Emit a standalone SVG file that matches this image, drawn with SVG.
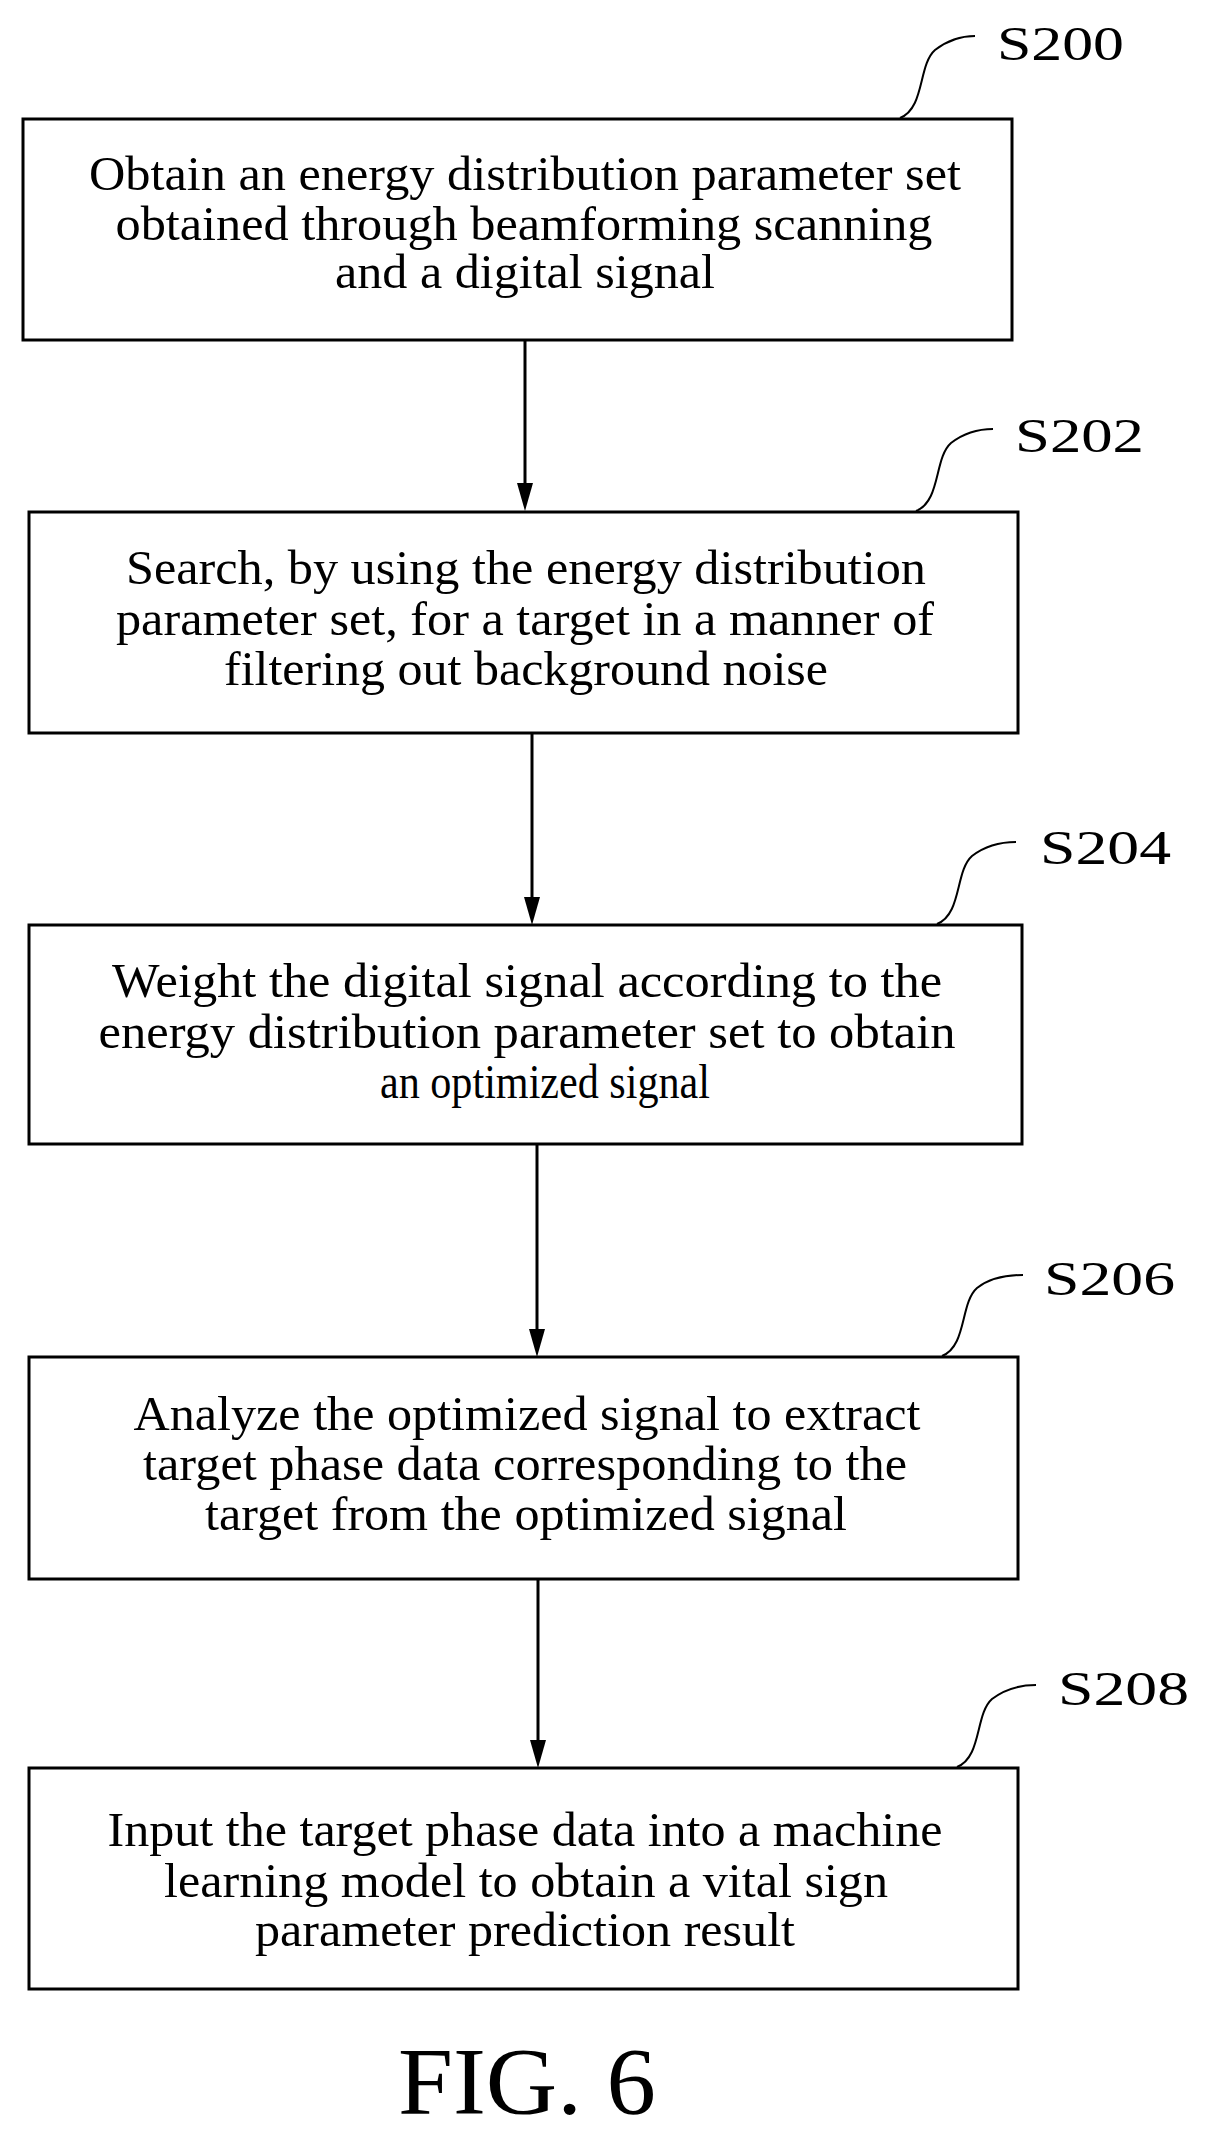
<svg xmlns="http://www.w3.org/2000/svg" width="1205" height="2131" viewBox="0 0 1205 2131">
<style>
.b{fill:#fff;stroke:#000;stroke-width:3}
.t{font-family:"Liberation Serif",serif;font-size:48px;text-anchor:middle;fill:#000}
.l{font-family:"Liberation Serif",serif;font-size:48px;fill:#000}
.c{fill:none;stroke:#000;stroke-width:2}
.a{stroke:#000;stroke-width:3;fill:none}
</style>
<rect width="1205" height="2131" fill="#fff"/>
<g id="connectors">
<line class="a" x1="525" y1="340" x2="525" y2="490"/><path d="M517,483 L533,483 L525,511 z"/>
<line class="a" x1="532" y1="733" x2="532" y2="904"/><path d="M524,897 L540,897 L532,925 z"/>
<line class="a" x1="537" y1="1144" x2="537" y2="1336"/><path d="M529,1329 L545,1329 L537,1357 z"/>
<line class="a" x1="538" y1="1579" x2="538" y2="1747"/><path d="M530,1740 L546,1740 L538,1768 z"/>
</g>
<g id="S200"><rect class="b" x="23" y="119" width="989" height="221"/>
<path class="c" d="M900,118 C925,108 918,65 935,50 C948,40 960,36 975,36"/>
<text class="l" x="997" y="60" textLength="127" lengthAdjust="spacingAndGlyphs">S200</text>
<text class="t" x="525" y="190" textLength="872" lengthAdjust="spacingAndGlyphs">Obtain an energy distribution parameter set</text>
<text class="t" x="524" y="240" textLength="817" lengthAdjust="spacingAndGlyphs">obtained through beamforming scanning</text>
<text class="t" x="525" y="288" textLength="380" lengthAdjust="spacingAndGlyphs">and a digital signal</text></g>
<g id="S202"><rect class="b" x="29" y="512" width="989" height="221"/>
<path class="c" d="M916,511 C941,501 934,458 951,443 C964,433 978,429 993,429"/>
<text class="l" x="1015" y="452" textLength="129" lengthAdjust="spacingAndGlyphs">S202</text>
<text class="t" x="526" y="584" textLength="800" lengthAdjust="spacingAndGlyphs">Search, by using the energy distribution</text>
<text class="t" x="525" y="635" textLength="818" lengthAdjust="spacingAndGlyphs">parameter set, for a target in a manner of</text>
<text class="t" x="526" y="685" textLength="604" lengthAdjust="spacingAndGlyphs">filtering out background noise</text></g>
<g id="S204"><rect class="b" x="29" y="925" width="993" height="219"/>
<path class="c" d="M937,924 C962,914 955,871 972,856 C985,846 999,842 1016,842"/>
<text class="l" x="1040" y="864" textLength="131" lengthAdjust="spacingAndGlyphs">S204</text>
<text class="t" x="527" y="997" textLength="830" lengthAdjust="spacingAndGlyphs">Weight the digital signal according to the</text>
<text class="t" x="527" y="1048" textLength="857" lengthAdjust="spacingAndGlyphs">energy distribution parameter set to obtain</text>
<text class="t" x="545" y="1098" textLength="330" lengthAdjust="spacingAndGlyphs">an optimized signal</text></g>
<g id="S206"><rect class="b" x="29" y="1357" width="989" height="222"/>
<path class="c" d="M942,1356 C967,1346 960,1303 977,1288 C990,1278 1005,1275 1023,1275"/>
<text class="l" x="1044" y="1295" textLength="131" lengthAdjust="spacingAndGlyphs">S206</text>
<text class="t" x="527" y="1430" textLength="787" lengthAdjust="spacingAndGlyphs">Analyze the optimized signal to extract</text>
<text class="t" x="525" y="1480" textLength="764" lengthAdjust="spacingAndGlyphs">target phase data corresponding to the</text>
<text class="t" x="526" y="1530" textLength="642" lengthAdjust="spacingAndGlyphs">target from the optimized signal</text></g>
<g id="S208"><rect class="b" x="29" y="1768" width="989" height="221"/>
<path class="c" d="M957,1767 C982,1757 975,1714 992,1699 C1005,1689 1020,1685 1036,1685"/>
<text class="l" x="1058" y="1705" textLength="131" lengthAdjust="spacingAndGlyphs">S208</text>
<text class="t" x="525" y="1846" textLength="835" lengthAdjust="spacingAndGlyphs">Input the target phase data into a machine</text>
<text class="t" x="526" y="1897" textLength="724" lengthAdjust="spacingAndGlyphs">learning model to obtain a vital sign</text>
<text class="t" x="525" y="1946" textLength="540" lengthAdjust="spacingAndGlyphs">parameter prediction result</text></g>
<text class="t" x="527" y="2114" style="font-size:96px" textLength="258" lengthAdjust="spacingAndGlyphs">FIG. 6</text>
</svg>
